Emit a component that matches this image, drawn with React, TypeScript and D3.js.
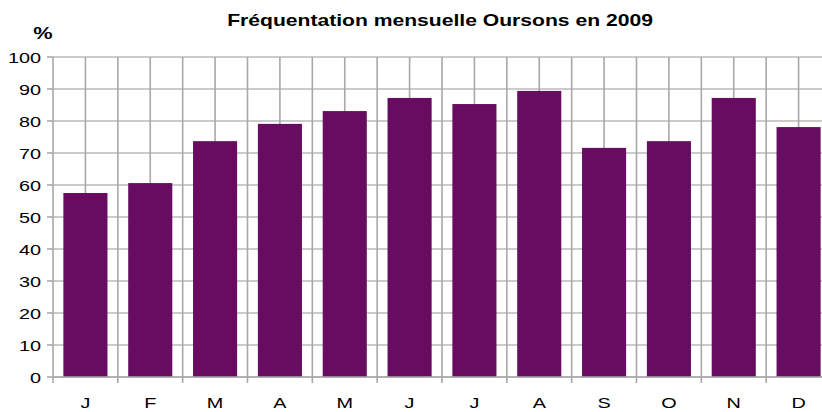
import React from "react";
import * as d3 from "d3";

const months = ["J", "F", "M", "A", "M", "J", "J", "A", "S", "O", "N", "D"];
const values = [57.5, 60.6, 73.7, 79.1, 83.1, 87.2, 85.3, 89.4, 71.6, 73.7, 87.2, 78.1];
const yTicks = [0, 10, 20, 30, 40, 50, 60, 70, 80, 90, 100];
const title = "Fréquentation mensuelle Oursons en 2009";
const yUnit = "%";

const SX = 1.28;

function T(props: { x: number; y: number; anchor?: string; size: number; bold?: boolean; children: React.ReactNode; dy?: string }) {
  const font = "'Liberation Sans', Arial, sans-serif";
  return (
    <text
      transform={`translate(${props.x},${props.y}) scale(${SX},1)`}
      dy={props.dy}
      textAnchor={props.anchor || "start"}
      fontFamily={font}
      fontSize={props.size}
      fontWeight={props.bold ? "bold" : "normal"}
      fill="#000"
    >
      {props.children}
    </text>
  );
}

export default function App() {
  const W = 822, H = 412;
  const left = 53, right = 831, top = 57, bottom = 377;
  const keys = months.map((_, i) => String(i));
  const x = d3.scaleBand<string>().domain(keys).range([left, right]).paddingInner(0.32).paddingOuter(0.16);
  const xb = d3.scaleBand<string>().domain(keys).range([left, right]);
  const y = d3.scaleLinear().domain([0, 100]).range([bottom, top]);
  const step = xb.step();
  return (
    <svg width={W} height={H} style={{ position: "absolute", left: 0, top: 0, background: "#fff" }}>
      {yTicks.map((t) => (
        <line key={"h" + t} x1={left} x2={right} y1={y(t)} y2={y(t)} stroke="#cbcbcb" strokeWidth={2} />
      ))}
      {keys.map((k) => {
        const x0 = xb(k)!;
        return (
          <g key={"v" + k}>
            <line x1={x0 + step / 2} x2={x0 + step / 2} y1={top} y2={bottom} stroke="#a8a8a8" strokeWidth={1.6} />
            <line x1={x0 + step} x2={x0 + step} y1={top} y2={bottom + 6} stroke="#a8a8a8" strokeWidth={1.6} />
          </g>
        );
      })}
      {values.map((v, i) => (
        <rect key={"b" + i} x={x(String(i))} y={y(v)} width={x.bandwidth()} height={y(0) - y(v)} fill="#680c62" />
      ))}
      <line x1={left} x2={left} y1={top} y2={bottom + 6} stroke="#a8a8a8" strokeWidth={1.6} />
      <line x1={left} x2={right} y1={bottom} y2={bottom} stroke="#a8a8a8" strokeWidth={1.6} />
      {yTicks.map((t) => (
        <g key={"yt" + t}>
          <line x1={left - 6} x2={left} y1={y(t)} y2={y(t)} stroke="#a8a8a8" strokeWidth={1.6} />
          <T x={41} y={y(t)} dy="0.36em" anchor="end" size={15.5}>
            {t}
          </T>
        </g>
      ))}
      {months.map((m, i) => (
        <T key={"xl" + i} x={xb(String(i))! + step / 2} y={408} anchor="middle" size={15.5}>
          {m}
        </T>
      ))}
      <T x={440} y={26} anchor="middle" size={16.5} bold>
        {title}
      </T>
      <T x={43} y={39} anchor="middle" size={17} bold>
        {yUnit}
      </T>
    </svg>
  );
}
